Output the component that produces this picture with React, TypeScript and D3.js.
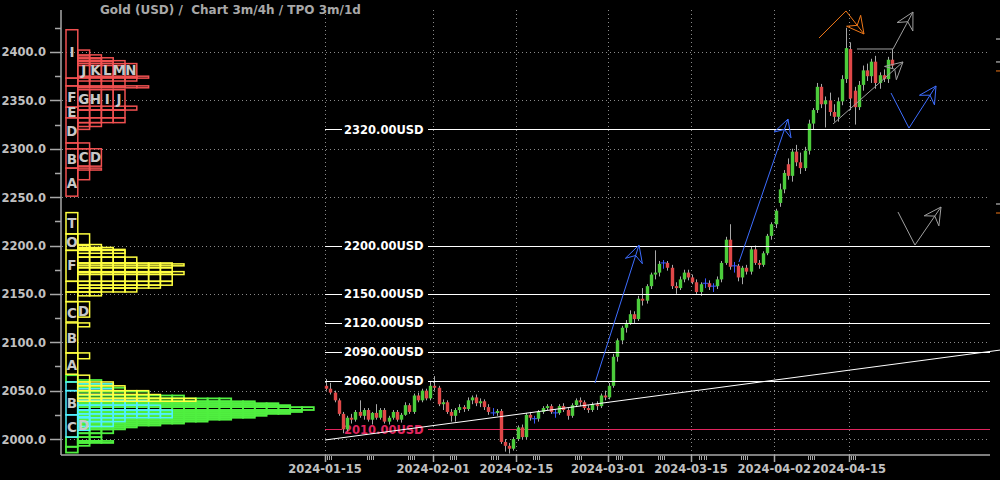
import React from 'react';
import * as d3 from 'd3';

const W = 1000;
const H = 480;

// ---- Candles (condensed 12h bars) ----
const opens = [
  2055, 2052, 2048, 2040, 2026, 2010, 2022, 2020, 2028, 2024, 2030, 2020, 2027, 2022, 2030, 2018, 2022, 2028, 2020, 2025,
  2035, 2028, 2045, 2040, 2050, 2042, 2055, 2053, 2036, 2038, 2028, 2024, 2030, 2033, 2031, 2040, 2043, 2037, 2039, 2033,
  2028, 2027, 2029, 1997, 1993, 1990, 2000, 2012, 2002, 2025, 2022, 2021, 2028, 2032, 2034, 2028, 2027, 2034, 2030, 2024,
  2035, 2040, 2038, 2032, 2030, 2036, 2034, 2045, 2043, 2055, 2085, 2102, 2115, 2120, 2129, 2124, 2145, 2143, 2158, 2170,
  2172, 2181, 2182, 2177, 2158, 2156, 2165, 2172, 2167, 2162, 2152, 2160, 2161, 2157, 2158, 2165, 2182, 2206, 2178, 2179,
  2167, 2177, 2173, 2196, 2182, 2180, 2192, 2210, 2222, 2244, 2258, 2284, 2272, 2297, 2286, 2280, 2298, 2326, 2340, 2364,
  2346, 2350, 2338, 2333, 2349, 2372, 2403, 2360, 2343, 2366, 2381, 2375, 2390, 2368, 2376, 2372, 2392,
];
const highs = [
  2062, 2058, 2050, 2042, 2028, 2024, 2026, 2030, 2040, 2032, 2032, 2028, 2036, 2032, 2032, 2024, 2030, 2030, 2027, 2038,
  2037, 2047, 2048, 2052, 2052, 2060, 2065, 2055, 2041, 2040, 2031, 2032, 2036, 2035, 2043, 2045, 2046, 2042, 2041, 2036,
  2032, 2031, 2031, 2000, 1996, 2002, 2014, 2015, 2027, 2028, 2024, 2030, 2034, 2036, 2036, 2031, 2036, 2037, 2032, 2037,
  2042, 2043, 2040, 2035, 2038, 2039, 2047, 2050, 2058, 2088, 2104, 2117, 2123, 2133, 2132, 2148, 2156, 2160, 2172, 2195,
  2184, 2185, 2184, 2180, 2162, 2168, 2175, 2175, 2170, 2165, 2162, 2166, 2164, 2161, 2168, 2184, 2209, 2222, 2183, 2181,
  2179, 2180, 2199, 2200, 2185, 2194, 2212, 2224, 2238, 2264, 2278, 2290, 2300, 2304, 2296, 2302, 2330, 2342, 2368, 2367,
  2354, 2358, 2346, 2353, 2376, 2425, 2410, 2364, 2370, 2386, 2388, 2393, 2396, 2379, 2382, 2395, 2403,
];
const lows = [
  2050, 2046, 2038, 2024, 2006, 2008, 2016, 2018, 2022, 2020, 2018, 2015, 2020, 2020, 2016, 2015, 2020, 2018, 2017, 2024,
  2026, 2026, 2038, 2038, 2040, 2040, 2050, 2034, 2030, 2026, 2018, 2018, 2027, 2028, 2029, 2036, 2034, 2033, 2030, 2025,
  2024, 2024, 1995, 1987, 1985, 1988, 1998, 2000, 2000, 2019, 2016, 2018, 2026, 2030, 2026, 2022, 2025, 2028, 2020, 2022,
  2033, 2034, 2030, 2027, 2028, 2030, 2032, 2040, 2041, 2053, 2080, 2098, 2110, 2118, 2120, 2122, 2138, 2140, 2155, 2165,
  2168, 2176, 2174, 2155, 2150, 2154, 2162, 2164, 2160, 2150, 2148, 2156, 2154, 2152, 2155, 2162, 2180, 2175, 2172, 2163,
  2160, 2170, 2170, 2180, 2176, 2178, 2190, 2206, 2218, 2240, 2254, 2268, 2266, 2282, 2274, 2277, 2294, 2320, 2337, 2342,
  2322, 2334, 2328, 2328, 2345, 2368, 2340, 2325, 2340, 2360, 2370, 2368, 2362, 2362, 2369, 2368, 2383,
];
const closes = [
  2052, 2048, 2040, 2026, 2010, 2022, 2020, 2028, 2024, 2030, 2020, 2027, 2022, 2030, 2018, 2022, 2028, 2020, 2025, 2035,
  2028, 2045, 2040, 2050, 2042, 2055, 2053, 2036, 2038, 2028, 2024, 2030, 2033, 2031, 2040, 2043, 2037, 2039, 2033, 2028,
  2027, 2029, 1997, 1993, 1990, 2000, 2012, 2002, 2025, 2022, 2021, 2028, 2032, 2034, 2028, 2027, 2034, 2030, 2024, 2035,
  2040, 2038, 2032, 2030, 2036, 2034, 2045, 2043, 2055, 2085, 2102, 2115, 2120, 2129, 2124, 2145, 2143, 2158, 2170, 2172,
  2181, 2182, 2177, 2158, 2156, 2165, 2172, 2167, 2162, 2152, 2160, 2161, 2157, 2158, 2165, 2182, 2206, 2178, 2179, 2167,
  2177, 2173, 2196, 2182, 2180, 2192, 2210, 2222, 2236, 2258, 2275, 2272, 2297, 2286, 2280, 2298, 2326, 2340, 2364, 2346,
  2350, 2338, 2333, 2349, 2372, 2404, 2352, 2343, 2366, 2381, 2375, 2390, 2368, 2376, 2372, 2392, 2386,
];

// ---- Axes ----
const yTicks = [2000, 2050, 2100, 2150, 2200, 2250, 2300, 2350, 2400];
const yMinorTicks = [2025, 2075, 2125, 2175, 2225, 2275, 2325, 2375, 2425];
const xTickLabels = ['2024-01-15', '2024-02-01', '2024-02-15', '2024-03-01', '2024-03-15', '2024-04-02', '2024-04-15'];
const xTickDays = [0, 13, 23, 34, 44, 54, 63];
const weekStartDays = [0, 5, 10, 15, 20, 25, 30, 35, 40, 45, 50, 58, 63];

// ---- Horizontal levels & trend ----
const whiteLevels = [2320, 2200, 2150, 2120, 2090, 2060];
const redLevels = [2010];
const trendLine = [[0, 1999], [81.2, 2092]];

// ---- Drawn arrows: [day, price] points, last point is the tip ----
const blueArrows = [
  [[32.45, 2057.9], [37.74, 2200.5]],
  [[49.76, 2182.9], [55.65, 2330.7]],
  [[68.03, 2357.6], [70.19, 2321.4], [73.44, 2364.9]],
];
const grayArrows = [
  [[68.87, 2234.6], [70.91, 2200.5], [74.04, 2239.8]],
  [[63.94, 2403.1], [68.27, 2403.1], [70.67, 2441.3]],
  [[61.06, 2325.6], [69.47, 2389.7]],
];
const orangeArrows = [
  [[59.38, 2414.5], [62.62, 2442.4], [64.78, 2418.6]],
];
const edgeMarksWhite = [2413.4, 2389.7, 2242.9];
const edgeMarksOrange = [2380.4, 2233.6];

// ---- TPO profiles ----
// first column letter boxes: [low, high]
const redCol0 = [[2373, 2423], [2365, 2373], [2343, 2365], [2332, 2343], [2306, 2332], [2300, 2306], [2280, 2300], [2251, 2280]];
// rows: [low, high, columns]
const redRows = [
  [2396, 2402, 1], [2393, 2397, 2], [2390, 2394, 3], [2386, 2391, 4], [2374, 2388, 5], [2373, 2375, 6],
  [2364, 2374, 4], [2370, 2374, 5], [2363, 2365, 6], [2340, 2361, 4], [2340, 2344, 5], [2332, 2340, 4],
  [2327, 2332, 4], [2320, 2332, 1], [2323, 2327, 2], [2300, 2306, 1], [2282, 2300, 2], [2278, 2280, 2], [2268, 2282, 1],
];
const redLetters = [
  [0, 2400, 'I'], [0, 2354, 'F'], [0, 2338, 'E'], [0, 2318, 'D'], [0, 2289, 'B'], [0, 2265, 'A'],
  [1, 2381, 'J'], [2, 2381, 'K'], [3, 2381, 'L'], [4, 2381, 'M'], [5, 2381, 'N'],
  [1, 2351, 'G'], [2, 2351, 'H'], [3, 2351, 'I'], [4, 2351, 'J'], [1, 2291, 'C'], [2, 2291, 'D'],
];

const yellowCol0 = [[2212, 2234], [2195, 2212], [2163, 2195], [2152, 2163], [2142, 2152], [2121, 2142], [2089, 2120], [2067, 2089]];
const yellowRows = [
  [2200, 2212, 1], [2197, 2201, 2], [2195, 2198, 3], [2192, 2195, 4], [2188, 2196, 4], [2182, 2188, 5],
  [2177, 2182, 8], [2179, 2181, 9], [2172, 2177, 8], [2170, 2173, 9], [2163, 2172, 8], [2159, 2163, 8],
  [2156, 2159, 7], [2152, 2156, 5], [2148, 2152, 2], [2126, 2142, 1], [2116, 2120, 1], [2083, 2089, 1],
  [2059, 2066, 1], [2055, 2059, 3], [2050, 2055, 4], [2046, 2050, 6], [2042, 2046, 7], [2039, 2042, 10],
];
const yellowLetters = [
  [0, 2223, 'T'], [0, 2204, 'O'], [0, 2180, 'F'], [0, 2130, 'C'], [0, 2104, 'B'], [0, 2076, 'A'], [1, 2132, 'D'],
];

const greenCol0 = [[2059, 2066], [1992, 2002], [1986, 1992]];
const greenRows = [
  [2057, 2061, 2], [2053, 2057, 3], [2049, 2053, 4], [2045, 2049, 6], [2042, 2045, 9], [2039, 2042, 13],
  [2037, 2039, 15], [2035, 2037, 17], [2033, 2035, 18], [2030, 2033, 20], [2028, 2030, 19], [2026, 2028, 18],
  [2024, 2026, 16], [2022, 2024, 15], [2020, 2022, 13], [2018, 2020, 11], [2016, 2018, 9], [2014, 2016, 7],
  [2012, 2014, 5], [2010, 2012, 4], [2006, 2010, 3], [2002, 2006, 2], [1998, 2002, 2], [1996, 1998, 3], [1993, 1996, 1],
];

const cyanCol0 = [[2050, 2059], [2025, 2050], [2002, 2025]];
const cyanRows = [
  [2052, 2057, 3], [2046, 2052, 3], [2040, 2046, 4], [2035, 2040, 6], [2030, 2035, 7], [2026, 2030, 8],
  [2022, 2026, 8], [2018, 2022, 4], [2013, 2018, 3], [2009, 2023, 1],
];
const cyanLetters = [[0, 2037, 'B'], [0, 2012, 'C'], [1, 2015, 'D']];

const FONT = '"DejaVu Sans", Verdana, sans-serif';

export default function App() {
  const y = d3.scaleLinear().domain([1983.5, 2443.4]).range([455, 10]);
  const x = d3.scaleLinear().domain([0, 80]).range([325, 990.6]);
  const col = d3.scaleLinear().domain([0, 1]).range([66, 77.8]);
  const colW = col(1) - col(0);

  const profile = (col0: number[][], rows: number[][], color: string, key: string, sw = 1.5) => (
    <g key={key} fill="none" stroke={color} strokeWidth={sw}>
      {rows.map((r, i) =>
        d3.range(1, r[2] + 1).map((k) => (
          <rect key={`${key}r${i}-${k}`} x={col(k)} y={y(r[1])} width={colW} height={y(r[0]) - y(r[1])} />
        ))
      )}
      {col0.map((b, i) => (
        <rect key={`${key}c${i}`} x={col(0)} y={y(b[1])} width={colW} height={y(b[0]) - y(b[1])} />
      ))}
    </g>
  );

  const letters = (list: any[], key: string) => (
    <g key={key} fill="#c8c8c8" fontFamily={FONT} fontWeight="bold" fontSize={13.5} textAnchor="middle">
      {list.map((l, i) => (
        <text key={`${key}${i}`} x={col(l[0]) + colW / 2} y={y(l[1]) + 5}>
          {l[2]}
        </text>
      ))}
    </g>
  );

  const arrow = (pts: number[][], color: string, key: string) => {
    const p = pts.map((d) => [x(d[0]), y(d[1])]);
    const tip = p[p.length - 1];
    const prev = p[p.length - 2];
    const ang = Math.atan2(prev[1] - tip[1], prev[0] - tip[0]);
    const L = 19;
    const a = (28 * Math.PI) / 180;
    const w1 = [tip[0] + L * Math.cos(ang + a), tip[1] + L * Math.sin(ang + a)];
    const w2 = [tip[0] + L * Math.cos(ang - a), tip[1] + L * Math.sin(ang - a)];
    const n = [tip[0] + 11 * Math.cos(ang), tip[1] + 11 * Math.sin(ang)];
    const line = d3.line();
    return (
      <g key={key} fill="none" stroke={color} strokeWidth={1}>
        <path d={line(p as any) || ''} />
        <path d={line([tip, w1, n, w2, tip] as any) || ''} />
      </g>
    );
  };

  const candles = opens.map((o, i) => {
    const c = closes[i];
    const cx = Math.round(x(i / 2 + 0.15)) + 0.5;
    const doji = Math.abs(c - o) < 2;
    const up = c >= o;
    const top = y(Math.max(o, c));
    const bot = y(Math.min(o, c));
    if (doji) {
      return (
        <g key={`k${i}`} stroke="#3c5aff" strokeWidth={1}>
          <line x1={cx} x2={cx} y1={y(highs[i])} y2={y(lows[i])} />
          <line x1={cx - 3} x2={cx + 3} y1={y(c)} y2={y(c)} />
        </g>
      );
    }
    return (
      <g key={`k${i}`}>
        <line x1={cx} x2={cx} y1={y(highs[i])} y2={y(lows[i])} stroke="#a8a8a8" strokeWidth={1} />
        <rect x={cx - 1.7} y={top} width={3.4} height={Math.max(1, bot - top)} fill={up ? '#4ccc3c' : '#e04848'} />
      </g>
    );
  });

  return (
    <svg width={W} height={H} style={{ position: 'absolute', left: 0, top: 0, background: '#000' }}>
      <rect x={0} y={0} width={W} height={H} fill="#000" />

      {/* grid */}
      <g stroke="#8a8a8a" strokeWidth={1} strokeDasharray="1,3">
        {yTicks.map((t) => (
          <line key={`gy${t}`} x1={62} x2={990} y1={Math.round(y(t)) + 0.5} y2={Math.round(y(t)) + 0.5} />
        ))}
        {xTickDays.map((d) => (
          <line key={`gx${d}`} x1={Math.round(x(d)) + 0.5} x2={Math.round(x(d)) + 0.5} y1={10} y2={455} />
        ))}
      </g>

      {/* TPO profiles */}
      {profile(greenCol0, greenRows, '#50f040', 'pg', 1.8)}
      {profile(cyanCol0, cyanRows, '#50f0ff', 'pc')}
      {profile(yellowCol0, yellowRows, '#ffff40', 'py')}
      {profile(redCol0, redRows, '#f05050', 'pr')}
      {letters(cyanLetters, 'lc')}
      {letters(yellowLetters, 'ly')}
      {letters(redLetters, 'lr')}

      {/* level lines */}
      {redLevels.map((v) => (
        <g key={`rl${v}`}>
          <line x1={325} x2={990} y1={Math.round(y(v)) + 0.5} y2={Math.round(y(v)) + 0.5} stroke="#e0245e" strokeWidth={1} />
          <rect x={342} y={y(v) - 7} width={86} height={14} fill="#000" />
          <text x={344} y={y(v) + 4.5} fill="#e0245e" fontFamily={FONT} fontWeight="bold" fontSize={11.5}>
            {v.toFixed(2) + 'USD'}
          </text>
        </g>
      ))}

      {candles}

      {whiteLevels.map((v) => (
        <g key={`wl${v}`}>
          <line x1={325} x2={990} y1={Math.round(y(v)) + 0.5} y2={Math.round(y(v)) + 0.5} stroke="#ffffff" strokeWidth={1.2} />
          <rect x={342} y={y(v) - 7} width={86} height={14} fill="#000" />
          <text x={344} y={y(v) + 4.5} fill="#ffffff" fontFamily={FONT} fontWeight="bold" fontSize={11.5}>
            {v.toFixed(2) + 'USD'}
          </text>
        </g>
      ))}

      {/* trend line */}
      <line
        x1={x(trendLine[0][0])}
        y1={y(trendLine[0][1])}
        x2={x(trendLine[1][0])}
        y2={y(trendLine[1][1])}
        stroke="#ffffff"
        strokeWidth={1}
      />

      {/* drawn arrows */}
      {blueArrows.map((a, i) => arrow(a, '#3d6dff', `ab${i}`))}
      {grayArrows.map((a, i) => arrow(a, '#a0a0a0', `ag${i}`))}
      {orangeArrows.map((a, i) => arrow(a, '#f07818', `ao${i}`))}

      {/* right edge marks */}
      {edgeMarksWhite.map((v) => (
        <line key={`ew${v}`} x1={996} x2={1000} y1={y(v)} y2={y(v)} stroke="#dddddd" strokeWidth={1} />
      ))}
      {edgeMarksOrange.map((v) => (
        <line key={`eo${v}`} x1={996} x2={1000} y1={y(v)} y2={y(v)} stroke="#f07818" strokeWidth={1} />
      ))}

      {/* axes */}
      <g stroke="#a8a8a8" strokeWidth={1.5}>
        <line x1={61} x2={61} y1={10} y2={455} />
        <line x1={61} x2={990} y1={455} y2={455} />
        {yTicks.map((t) => (
          <line key={`ty${t}`} x1={50} x2={61} y1={Math.round(y(t)) + 0.5} y2={Math.round(y(t)) + 0.5} />
        ))}
        {yMinorTicks.map((t) => (
          <line key={`tym${t}`} x1={55} x2={61} y1={Math.round(y(t)) + 0.5} y2={Math.round(y(t)) + 0.5} />
        ))}
        {xTickDays.map((d) => (
          <line key={`tx${d}`} x1={Math.round(x(d)) + 0.5} x2={Math.round(x(d)) + 0.5} y1={455} y2={462} />
        ))}
      </g>
      <g stroke="#a8a8a8" strokeWidth={1}>
        {weekStartDays.map((d) =>
          [0, 0.25, 0.5, 0.75].map((f) => (
            <line key={`mx${d}-${f}`} x1={Math.round(x(d + f)) + 0.5} x2={Math.round(x(d + f)) + 0.5} y1={456} y2={460} />
          ))
        )}
      </g>
      <g fill="#c0c0c0" fontFamily={FONT} fontWeight="bold" fontSize={11.5}>
        {yTicks.map((t) => (
          <text key={`ly${t}`} x={46} y={y(t) + 4.5} textAnchor="end">
            {t.toFixed(1)}
          </text>
        ))}
        {xTickDays.map((d, i) => (
          <text key={`lx${d}`} x={x(d)} y={473} textAnchor="middle">
            {xTickLabels[i]}
          </text>
        ))}
      </g>

      {/* title */}
      <text x={100} y={14} fill="#a8a8a8" fontFamily={FONT} fontWeight="bold" fontSize={12} style={{ whiteSpace: 'pre' }}>
        {'Gold (USD) /  Chart 3m/4h / TPO 3m/1d'}
      </text>
    </svg>
  );
}
